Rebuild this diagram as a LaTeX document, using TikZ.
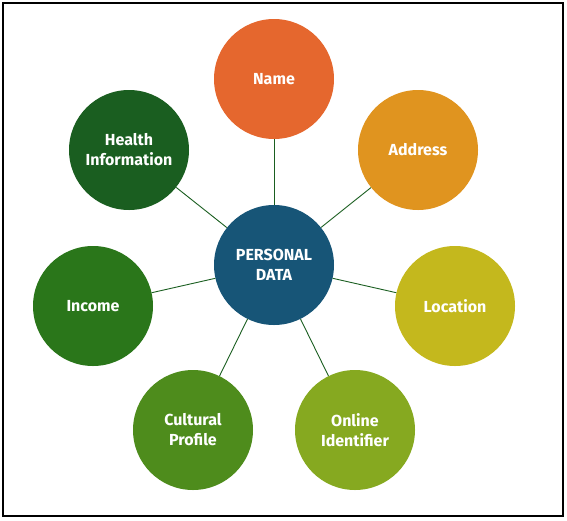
\documentclass[tikz,border=0pt]{standalone}
\usepackage{fontspec}
\setmainfont{Fira Sans}
\usetikzlibrary{positioning}
\definecolor{hubblue}{RGB}{23,85,119}
\definecolor{linkgreen}{RGB}{26,94,32}
\definecolor{cname}{RGB}{229,103,46}
\definecolor{caddress}{RGB}{224,148,31}
\definecolor{clocation}{RGB}{196,184,29}
\definecolor{conline}{RGB}{134,169,32}
\definecolor{ccultural}{RGB}{78,140,28}
\definecolor{cincome}{RGB}{42,118,26}
\definecolor{chealth}{RGB}{26,94,32}

\begin{document}
\begin{tikzpicture}[
    x=1pt, y=-1pt,
    bubble/.style={circle, minimum size=120pt, inner sep=0pt, align=center, text=white, font=\fontsize{16}{20}\selectfont\bfseries},
    link/.style={draw=linkgreen, line width=0.9pt}
]

% Frame
\useasboundingbox (0,0) rectangle (567,520);
\draw[line width=2pt] (3,3) rectangle (563,516);

% Hub
\node[bubble, fill=hubblue] (data) at (274,265) {PERSONAL\\DATA};

% Satellites
\node[bubble, fill=cname] (name) at (274,79) {Name};
\node[bubble, fill=caddress] (address) at (418,150) {Address};
\node[bubble, fill=clocation] (location) at (455,306) {Location};
\node[bubble, fill=conline] (online) at (355,430) {Online\\Identifier};
\node[bubble, fill=ccultural] (cultural) at (193,430) {Cultural\\Profile};
\node[bubble, fill=cincome] (income) at (93,306) {Income};
\node[bubble, fill=chealth] (health) at (129,150) {Health\\Information};

% Links
\foreach \s in {name,address,location,online,cultural,income,health}
  \draw[link] (data) -- (\s);

\end{tikzpicture}
\end{document}
